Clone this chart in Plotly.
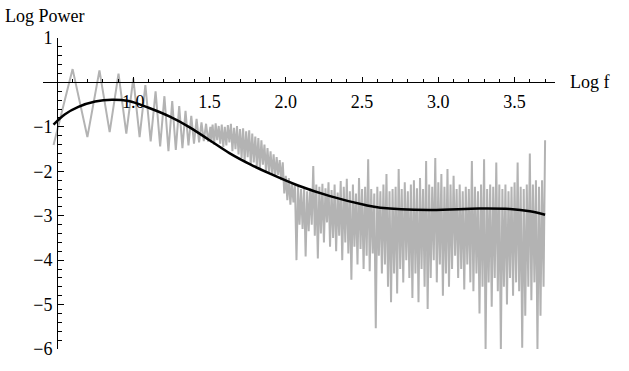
import numpy as np
import plotly.graph_objects as go

# ---------------- data ----------------
# low-frequency part: integer frequencies, log10 power
low_freq = [3, 4, 5, 6, 7, 8, 9, 10, 11, 12, 13, 14, 15, 16, 17, 18, 19, 20,
            21, 22, 23, 24, 25, 26, 27, 28, 29, 30, 31, 32]
low_log_power = [-1.41, 0.30, -1.23, 0.27, -1.12, 0.20, -1.15, 0.09, -1.23, -0.06,
                 -1.33, -0.20, -1.44, -0.31, -1.55, -0.42, -1.52, -0.53, -1.48, -0.64,
                 -1.42, -0.75, -1.38, -0.82, -1.35, -0.90, -1.32, -0.93, -1.33, -1.00]

# higher-frequency part, sampled on log f
band_log_f = [
    1.51, 1.52, 1.53, 1.54, 1.55, 1.56, 1.57, 1.58, 1.59, 1.60,
    1.61, 1.62, 1.63, 1.64, 1.65, 1.66, 1.67, 1.68, 1.69, 1.70,
    1.71, 1.72, 1.73, 1.74, 1.75, 1.76, 1.77, 1.78, 1.79, 1.80,
    1.81, 1.82, 1.83, 1.84, 1.85, 1.86, 1.87, 1.88, 1.89, 1.90,
    1.91, 1.92, 1.93, 1.94, 1.95, 1.96, 1.97, 1.98, 1.99, 2.00,
    2.01, 2.02, 2.03, 2.04, 2.05, 2.06, 2.07, 2.08, 2.09, 2.10,
    2.11, 2.12, 2.13, 2.14, 2.15, 2.16, 2.17, 2.18, 2.19, 2.20,
    2.21, 2.22, 2.23, 2.24, 2.25, 2.26, 2.27, 2.28, 2.29, 2.30,
    2.31, 2.32, 2.33, 2.34, 2.35, 2.36, 2.37, 2.38, 2.39, 2.40,
    2.41, 2.42, 2.43, 2.44, 2.45, 2.46, 2.47, 2.48, 2.49, 2.50,
    2.51, 2.52, 2.53, 2.54, 2.55, 2.56, 2.57, 2.58, 2.59, 2.60,
    2.61, 2.62, 2.63, 2.64, 2.65, 2.66, 2.67, 2.68, 2.69, 2.70,
    2.71, 2.72, 2.73, 2.74, 2.75, 2.76, 2.77, 2.78, 2.79, 2.80,
    2.81, 2.82, 2.83, 2.84, 2.85, 2.86, 2.87, 2.88, 2.89, 2.90,
    2.91, 2.92, 2.93, 2.94, 2.95, 2.96, 2.97, 2.98, 2.99, 3.00,
    3.01, 3.02, 3.03, 3.04, 3.05, 3.06, 3.07, 3.08, 3.09, 3.10,
    3.11, 3.12, 3.13, 3.14, 3.15, 3.16, 3.17, 3.18, 3.19, 3.20,
    3.21, 3.22, 3.23, 3.24, 3.25, 3.26, 3.27, 3.28, 3.29, 3.30,
    3.31, 3.32, 3.33, 3.34, 3.35, 3.36, 3.37, 3.38, 3.39, 3.40,
    3.41, 3.42, 3.43, 3.44, 3.45, 3.46, 3.47, 3.48, 3.49, 3.50,
    3.51, 3.52, 3.53, 3.54, 3.55, 3.56, 3.57, 3.58, 3.59, 3.60,
    3.61, 3.62, 3.63, 3.64, 3.65, 3.66, 3.67, 3.68, 3.69, 3.70,
]
band_log_power = [
    -1.35, -0.95, -1.40, -0.92, -1.30, -0.98, -1.38, -0.95, -1.45, -1.00,
    -1.42, -0.96, -1.35, -0.93, -1.55, -1.02, -1.50, -0.98, -1.62, -1.05,
    -1.70, -1.03, -1.78, -1.10, -1.68, -1.08, -1.85, -1.15, -1.80, -1.22,
    -1.88, -1.25, -1.95, -1.30, -1.85, -1.40, -2.00, -1.48, -2.02, -1.55,
    -2.08, -1.62, -2.12, -1.68, -2.08, -1.75, -2.20, -1.80, -2.50, -2.10,
    -2.65, -2.15, -2.75, -2.25, -2.70, -2.30, -4.00, -2.35, -3.20, -2.40,
    -3.30, -2.40, -3.92, -2.45, -3.35, -2.38, -3.20, -1.88, -3.45, -2.30,
    -3.96, -2.35, -3.40, -2.28, -3.60, -2.38, -3.15, -2.25, -3.70, -2.42,
    -3.50, -2.30, -3.80, -2.48, -3.45, -2.22, -4.00, -2.35, -3.60, -2.17,
    -3.85, -2.45, -4.44, -2.30, -3.70, -2.50, -4.10, -2.15, -3.75, -2.40,
    -4.20, -2.35, -3.90, -1.73, -4.25, -2.40, -3.85, -2.50, -5.53, -2.35,
    -3.90, -2.45, -4.30, -2.30, -4.10, -2.06, -4.60, -2.45, -4.95, -2.40,
    -4.30, -2.35, -4.75, -1.95, -4.20, -2.40, -4.50, -2.25, -4.00, -2.45,
    -4.40, -2.30, -4.85, -2.20, -4.30, -2.38, -4.95, -2.15, -4.20, -2.40,
    -4.60, -1.77, -5.10, -2.30, -4.40, -2.35, -4.00, -1.70, -4.50, -2.25,
    -4.10, -2.06, -4.80, -2.35, -4.30, -1.95, -4.60, -2.30, -4.20, -2.10,
    -3.90, -2.40, -4.40, -2.30, -4.20, -2.45, -4.66, -2.35, -4.10, -2.40,
    -4.50, -1.77, -4.70, -2.35, -4.30, -2.45, -5.20, -2.30, -4.60, -1.73,
    -6.00, -2.40, -4.50, -2.30, -5.05, -2.35, -4.40, -1.80, -4.70, -2.30,
    -6.00, -2.40, -4.60, -2.30, -5.00, -2.45, -4.40, -2.35, -4.80, -2.25,
    -4.50, -1.80, -4.70, -2.35, -5.97, -2.40, -5.25, -2.30, -4.60, -1.60,
    -4.90, -2.30, -4.50, -2.20, -6.00, -2.35, -5.25, -2.20, -4.60, -1.30,
]

# smooth fitted curve
fit_log_f = [0.477, 0.55, 0.64, 0.75, 0.86, 0.97, 1.10, 1.24, 1.37, 1.50, 1.63,
             1.77, 1.90, 2.08, 2.29, 2.52, 2.62, 2.94, 3.27, 3.47, 3.60, 3.70]
fit_log_power = [-0.95, -0.72, -0.55, -0.43, -0.39, -0.42, -0.57, -0.77, -1.01, -1.30,
                 -1.59, -1.85, -2.06, -2.32, -2.56, -2.76, -2.82, -2.87, -2.84, -2.85,
                 -2.90, -2.98]

x_ticks = [1.0, 1.5, 2.0, 2.5, 3.0, 3.5]
x_tick_text = ["1.0", "1.5", "2.0", "2.5", "3.0", "3.5"]
y_ticks = [-6, -5, -4, -3, -2, -1, 1]
y_tick_text = ["\u22126", "\u22125", "\u22124", "\u22123", "\u22122", "\u22121", "1"]

# ---------------- figure ----------------
log_f = list(np.log10(low_freq)) + band_log_f
log_power = low_log_power + band_log_power

X0, X1 = 0.408, 3.765
Y0, Y1 = -6.0, 1.0
FONT = "Liberation Serif, Times New Roman, serif"
FS = 18

fig = go.Figure()
fig.add_trace(go.Scatter(x=log_f, y=log_power, mode="lines",
                         line=dict(color="#b3b3b3", width=2.0),
                         hoverinfo="skip", showlegend=False))
fig.add_trace(go.Scatter(x=fit_log_f, y=fit_log_power, mode="lines",
                         line=dict(color="black", width=2.5, shape="spline", smoothing=1.0),
                         hoverinfo="skip", showlegend=False))

fig.update_layout(
    width=629, height=371,
    margin=dict(l=43, r=74, t=38, b=12),
    paper_bgcolor="white", plot_bgcolor="white",
    font=dict(family=FONT, size=FS, color="black"),
    xaxis=dict(range=[X0, X1], anchor="free", position=(0 - Y0) / (Y1 - Y0),
               showline=True, linecolor="black", linewidth=1,
               showgrid=False, zeroline=False,
               tickmode="array", tickvals=x_ticks, ticktext=x_tick_text,
               ticks="inside", ticklen=5, tickcolor="black", tickwidth=1,
               ticklabelstandoff=3,
               tickfont=dict(family=FONT, size=FS, color="black"),
               minor=dict(tickmode="linear", tick0=0.5, dtick=0.1, ticks="inside",
                          ticklen=3, tickcolor="black", tickwidth=1, showgrid=False)),
    yaxis=dict(range=[Y0, Y1], anchor="free", position=(0.5 - X0) / (X1 - X0),
               showline=True, linecolor="black", linewidth=1,
               showgrid=False, zeroline=False,
               tickmode="array", tickvals=y_ticks, ticktext=y_tick_text,
               ticks="inside", ticklen=6, tickcolor="black", tickwidth=1,
               ticklabelstandoff=1,
               tickfont=dict(family=FONT, size=FS, color="black"),
               minor=dict(tickmode="linear", tick0=0, dtick=0.2, ticks="inside",
                          ticklen=3.5, tickcolor="black", tickwidth=1, showgrid=False)),
    annotations=[
        dict(text="Log Power", xref="paper", yref="paper",
             x=(3 - 43) / 512, y=1 + (38 - 15) / 321, xanchor="left", yanchor="middle",
             showarrow=False, font=dict(family=FONT, size=FS, color="black")),
        dict(text="Log f", xref="paper", yref="y",
             x=(568 - 43) / 512, y=0, xanchor="left", yanchor="middle",
             showarrow=False, font=dict(family=FONT, size=FS, color="black")),
    ],
)

fig.write_html("out.html")
